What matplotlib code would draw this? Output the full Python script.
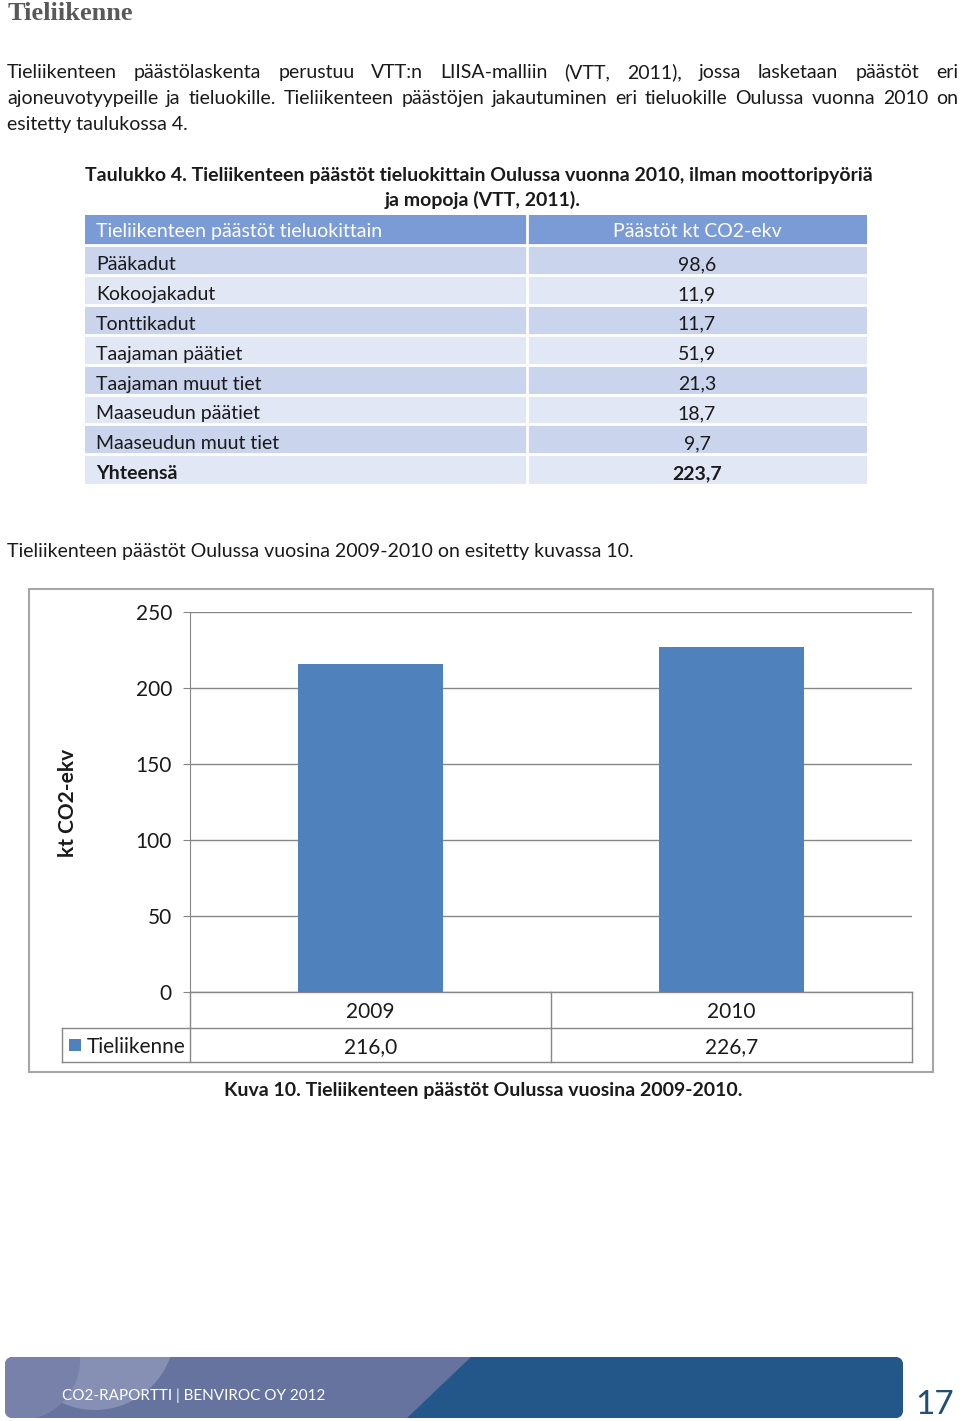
import matplotlib
matplotlib.use("Agg")
import matplotlib.pyplot as plt
from matplotlib.patches import Rectangle, FancyBboxPatch, Polygon, Circle
from matplotlib.lines import Line2D

# ---- data ----
table_header = ["Tieliikenteen päästöt tieluokittain", "Päästöt kt CO2-ekv"]
road_classes = ["Pääkadut", "Kokoojakadut", "Tonttikadut", "Taajaman päätiet",
                "Taajaman muut tiet", "Maaseudun päätiet", "Maaseudun muut tiet", "Yhteensä"]
road_values = ["98,6", "11,9", "11,7", "51,9", "21,3", "18,7", "9,7", "223,7"]
years = ["2009", "2010"]
emissions = [216.0, 226.7]
series_name = "Tieliikenne"
y_ticks = [0, 50, 100, 150, 200, 250]

FONT = "Lato"
plt.rcParams['font.family'] = [FONT, 'DejaVu Sans']

W, H = 960, 1421
fig = plt.figure(figsize=(W / 100, H / 100), dpi=100)
page = fig.add_axes([0, 0, 1, 1])
page.set_xlim(0, W)
page.set_ylim(H, 0)
page.axis("off")

TXT = "#1a1a1a"
BFS = 14

# heading
page.text(8, 20, "Tieliikenne", family="Liberation Serif", weight="bold", fontsize=19,
          color="#595959", va="baseline", ha="left")

renderer = fig.canvas.get_renderer()


def justify(words, x0, x1, y, **kw):
    arts = [page.text(0, y, w, va="baseline", ha="left", **kw) for w in words]
    widths = [a.get_window_extent(renderer=renderer).width for a in arts]
    gap = (x1 - x0 - sum(widths)) / (len(words) - 1)
    x = x0
    for a, w in zip(arts, widths):
        a.set_x(x)
        x += w + gap


justify("Tieliikenteen päästölaskenta perustuu VTT:n LIISA-malliin (VTT, 2011), jossa lasketaan päästöt eri".split(),
        7, 958, 78, fontsize=BFS, color=TXT)
justify("ajoneuvotyypeille ja tieluokille. Tieliikenteen päästöjen jakautuminen eri tieluokille Oulussa vuonna 2010 on".split(),
        7, 958, 104, fontsize=BFS, color=TXT)
page.text(7, 130, "esitetty taulukossa 4.", fontsize=BFS, color=TXT, va="baseline")

# table caption
page.text(85, 181, "Taulukko 4. Tieliikenteen päästöt tieluokittain Oulussa vuonna 2010, ilman moottoripyöriä",
          fontsize=BFS, weight="bold", color=TXT, va="baseline")
page.text(483, 206, "ja mopoja (VTT, 2011).", fontsize=BFS, weight="bold", color=TXT, va="baseline", ha="center")

# table
tx0, tx1, tdiv = 85, 867, 527
hy0, hy1 = 215, 245
page.add_patch(Rectangle((tx0, hy0), tx1 - tx0, hy1 - hy0, facecolor="#7B9BD6", edgecolor="none"))
page.text(96, 237, table_header[0], fontsize=BFS, color="white", va="baseline")
page.text((tdiv + tx1) / 2, 237, table_header[1], fontsize=BFS, color="white", va="baseline", ha="center")
rh = 29.9
for i, (name, val) in enumerate(zip(road_classes, road_values)):
    y0 = hy1 + i * rh
    col = "#CAD5ED" if i % 2 == 0 else "#E1E7F5"
    page.add_patch(Rectangle((tx0, y0), tx1 - tx0, rh, facecolor=col, edgecolor="none"))
    bold = "bold" if i == len(road_classes) - 1 else "normal"
    page.text(96, y0 + 25, name, fontsize=BFS, color=TXT, va="baseline", weight=bold)
    page.text(697, y0 + 25, val, fontsize=BFS, color=TXT, va="baseline", ha="center", weight=bold)
    page.add_line(Line2D([tx0, tx1], [y0, y0], color="white", lw=2))
page.add_line(Line2D([tdiv, tdiv], [hy0, hy1 + rh * len(road_classes)], color="white", lw=2))

page.text(7, 557, "Tieliikenteen päästöt Oulussa vuosina 2009-2010 on esitetty kuvassa 10.",
          fontsize=BFS, color=TXT, va="baseline")

# chart frame
page.add_patch(Rectangle((29, 589), 933 - 29, 1072 - 589, facecolor="none", edgecolor="#A6A6A6", lw=1.5))

# chart axes
px0, px1, py_top, py_bot = 190, 912, 612, 992
ax = fig.add_axes([px0 / W, 1 - py_bot / H, (px1 - px0) / W, (py_bot - py_top) / H])
ax.bar(range(len(years)), emissions, width=0.4, color="#4F81BD", zorder=3)
ax.set_xlim(-0.5, len(years) - 0.5)
ax.set_ylim(0, 250)
ax.set_yticks(y_ticks)
ax.set_yticklabels([str(t) for t in y_ticks], fontsize=15, color=TXT)
ax.tick_params(axis="y", length=5, color="#868686", pad=8)
ax.set_xticks([])
ax.grid(axis="y", color="#868686", lw=1, zorder=0)
for s in ["top", "right", "bottom"]:
    ax.spines[s].set_visible(False)
ax.spines["left"].set_color("#868686")
ax.set_facecolor("none")
page.text(68, 803, "kt CO2-ekv", fontsize=15, weight="bold", rotation=90, va="center", ha="center", color=TXT)

# data table under chart
gc = "#868686"
r0, r1, r2 = 992, 1028, 1062
lx = 62
page.add_line(Line2D([px0, px1], [r0, r0], color=gc, lw=1))
page.add_line(Line2D([lx, px1], [r1, r1], color=gc, lw=1))
page.add_line(Line2D([lx, px1], [r2, r2], color=gc, lw=1))
cw = (px1 - px0) / len(years)
for i in range(len(years) + 1):
    page.add_line(Line2D([px0 + i * cw, px0 + i * cw], [r0, r2], color=gc, lw=1))
page.add_line(Line2D([lx, lx], [r1, r2], color=gc, lw=1))
for i, (yr, v) in enumerate(zip(years, emissions)):
    cx = px0 + (i + 0.5) * cw
    page.text(cx, 1018, yr, fontsize=15, color=TXT, ha="center", va="baseline")
    page.text(cx, 1053, f"{v:.1f}".replace(".", ","), fontsize=15, color=TXT, ha="center", va="baseline")
page.add_patch(Rectangle((69, 1039), 12, 12, facecolor="#4F81BD", edgecolor="none"))
page.text(87, 1053, series_name, fontsize=15, color=TXT, va="baseline")

page.text(483, 1096, "Kuva 10. Tieliikenteen päästöt Oulussa vuosina 2009-2010.", fontsize=BFS,
          weight="bold", color=TXT, ha="center", va="baseline")

# footer
fb = FancyBboxPatch((5, 1357), 898, 61, boxstyle="round,pad=0,rounding_size=8",
                    facecolor="#66739F", edgecolor="none")
page.add_patch(fb)
c1 = Circle((95, 1330), 80, facecolor="#8690B5", edgecolor="none")
c1.set_clip_path(fb)
page.add_patch(c1)
c2 = Circle((20, 1360), 60, facecolor="#7781AA", edgecolor="none")
c2.set_clip_path(fb)
page.add_patch(c2)
dark = Polygon([(471, 1357), (903, 1357), (903, 1418), (407, 1418)], closed=True,
               facecolor="#23578A", edgecolor="none")
dark.set_clip_path(fb)
page.add_patch(dark)
page.text(62, 1400, "CO2-RAPORTTI | BENVIROC OY 2012", fontsize=11, color="white", va="baseline")
page.text(935, 1414, "17", fontsize=24, color="#1F4E79", va="baseline", ha="center")

fig.savefig("out.png", dpi=100)
